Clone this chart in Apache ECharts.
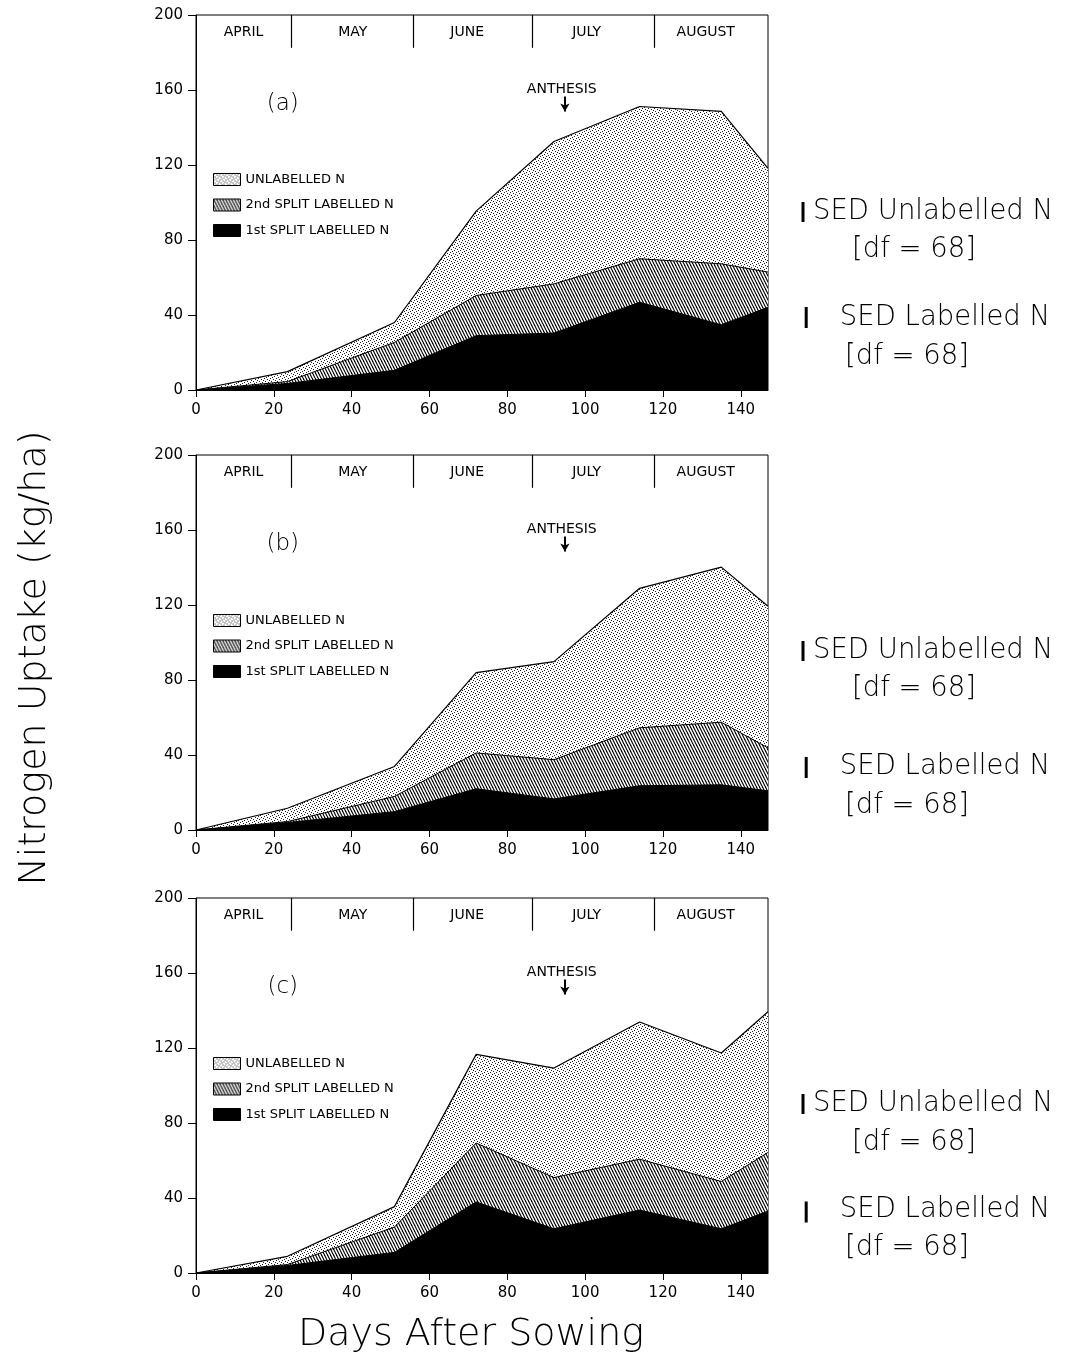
<!DOCTYPE html>
<html>
<head>
<meta charset="utf-8">
<script src="https://cdn.jsdelivr.net/npm/echarts@6/dist/echarts.min.js"></script>
<style>
html, body { margin: 0; padding: 0; background: #fff; }
#chart { width: 1066px; height: 1357px; }
</style>
</head>
<body>
<div id="chart"></div>
<script>
// sampling days (days after sowing)
const days = [0, 23.5, 51, 72, 92, 114, 135, 147]

// cumulative tops (kg/ha)
const totalA = [0, 9.8, 36, 95.4, 132.5, 151.2, 148.6, 118.2]
const labelledA = [0, 4.5, 25.4, 50.4, 56.6, 70, 67.3, 62.9]
const firstA = [0, 3.5, 10.5, 29, 30.4, 46.8, 34.8, 44.1]

const totalB = [0, 11.6, 33.9, 83.9, 89.8, 128.9, 140.2, 119.3]
const labelledB = [0, 4.5, 17.9, 41.1, 37.5, 54.5, 57.5, 43.8]
const firstB = [0, 4, 9.8, 22, 16.6, 23.6, 24.1, 20.9]

const totalC = [0, 8.9, 35.4, 116.6, 109.3, 133.9, 117.3, 139.3]
const labelledC = [0, 4.5, 24.5, 69.3, 50.9, 60.7, 48.8, 64.3]
const firstC = [0, 4, 11, 37.9, 23.6, 33.6, 23.6, 33]

const xTicks = [0, 20, 40, 60, 80, 100, 120, 140]
const monthNames = ['APRIL', 'MAY', 'JUNE', 'JULY', 'AUGUST']
const monthEdges = [24.5, 55.8, 86.3, 117.8]
const monthLabelDay = [12.2, 40.3, 69.7, 100.4, 131]
const anthesisDay = 94.8
const sedUnlabelled = 10.7
const sedLabelled = 11.2

const panelLabels = ['(a)', '(b)', '(c)']
const totals = [totalA, totalB, totalC]
const labelled = [labelledA, labelledB, labelledC]
const firsts = [firstA, firstB, firstC]

// layout
const gridTops = [15, 455, 898]
const legendTops = [168, 609, 1052]
const sedUnlCenter = [94.9, 95.5, 90.1]
const sedLabCenter = [38.7, 33.3, 32.5]
const sideTextY = [[212, 250, 318, 357], [651, 689, 767, 806], [1104, 1143, 1210, 1248]]

const FONT = 'DejaVu Sans'

function makeStipple() {
    const c = document.createElement('canvas')
    c.width = 6
    c.height = 6
    const ctx = c.getContext('2d')
    ctx.fillStyle = '#fff'
    ctx.fillRect(0, 0, 6, 6)
    ctx.fillStyle = '#222'
    ;[[0, 0], [3, 1], [1, 3], [4, 4], [2, 5], [5, 2]].forEach(([x, y]) => ctx.fillRect(x, y, 1, 1))
    return { image: c, repeat: 'repeat' }
}

function makeHatch() {
    const c = document.createElement('canvas')
    c.width = 3
    c.height = 6
    const ctx = c.getContext('2d')
    ctx.fillStyle = '#fff'
    ctx.fillRect(0, 0, 3, 6)
    ctx.strokeStyle = '#000'
    ctx.lineWidth = 1.2
    for (let k = -1; k <= 1; k++) {
        ctx.beginPath()
        ctx.moveTo(k * 3, 0)
        ctx.lineTo(k * 3 + 3, 6)
        ctx.stroke()
    }
    return { image: c, repeat: 'repeat' }
}

const stipple = makeStipple()
const hatch = makeHatch()

const zip = (xs, ys) => xs.map((x, i) => [x, ys[i]])

const grid = []
const xAxis = []
const yAxis = []
const series = []
const legend = []
const graphic = []

gridTops.forEach((top, i) => {
    const m = grid.length
    grid.push({ left: 196, width: 572, top: top, height: 375, show: true, borderColor: '#000', borderWidth: 1 })
    xAxis.push({
        type: 'value', gridIndex: m, min: 0, max: 147, interval: 20,
        axisLine: { lineStyle: { color: '#000', width: 1 } },
        axisTick: { inside: false, length: 7, customValues: xTicks, lineStyle: { color: '#000' } },
        axisLabel: { customValues: xTicks, margin: 13, color: '#000', fontSize: 15, fontFamily: FONT },
        splitLine: { show: false }
    })
    yAxis.push({
        type: 'value', gridIndex: m, min: 0, max: 200, interval: 40,
        axisLine: { show: true, lineStyle: { color: '#000', width: 1 } },
        axisTick: { show: true, inside: false, length: 8, lineStyle: { color: '#000' } },
        axisLabel: { margin: 13, color: '#000', fontSize: 15, fontFamily: FONT },
        splitLine: { show: false }
    })

    series.push({
        type: 'line', name: 'UNLABELLED N', xAxisIndex: m, yAxisIndex: m,
        data: zip(days, totals[i]), symbol: 'none',
        lineStyle: { color: '#000', width: 1.2 },
        areaStyle: { color: stipple, opacity: 1 }
    })
    series.push({
        type: 'line', name: '2nd SPLIT LABELLED N', xAxisIndex: m, yAxisIndex: m,
        data: zip(days, labelled[i]), symbol: 'none',
        lineStyle: { color: '#000', width: 1 },
        areaStyle: { color: hatch, opacity: 1 }
    })
    series.push({
        type: 'line', name: '1st SPLIT LABELLED N', xAxisIndex: m, yAxisIndex: m,
        data: zip(days, firsts[i]), symbol: 'none',
        lineStyle: { color: '#000', width: 1 },
        areaStyle: { color: '#000', opacity: 1 }
    })

    // month band, anthesis marker and panel letter
    const notes = monthNames.map((name, j) => ({ name: name, value: [monthLabelDay[j], 191] }))
    notes.push({ name: 'ANTHESIS', value: [anthesisDay - 0.8, 160.5] })
    notes.push({ name: panelLabels[i], value: [22.3, 152.5], label: { fontSize: 23, fontWeight: 200 } })
    const lines = monthEdges.map((d) => [{ coord: [d, 182.5] }, { coord: [d, 200] }])
    lines.push([
        { coord: [anthesisDay, 156.5], lineStyle: { width: 2 } },
        { coord: [anthesisDay, 148.5], symbol: 'arrow', symbolSize: [7, 8] }
    ])
    series.push({
        type: 'scatter', xAxisIndex: m, yAxisIndex: m, silent: true,
        symbolSize: 1, itemStyle: { color: 'rgba(0,0,0,0)', opacity: 1 },
        data: notes,
        label: { show: true, position: 'inside', formatter: '{b}', color: '#000', fontSize: 14, fontFamily: FONT },
        markLine: {
            silent: true, symbol: ['none', 'none'], animation: false,
            label: { show: false },
            lineStyle: { color: '#000', width: 1.2, type: 'solid', opacity: 1 },
            data: lines
        }
    })

    legend.push({
        left: 208, top: legendTops[i], orient: 'vertical', selectedMode: false,
        itemWidth: 27, itemHeight: 12, itemGap: 12.5,
        textStyle: { fontSize: 13, fontFamily: FONT, color: '#000' },
        data: [
            { name: 'UNLABELLED N', icon: 'rect', itemStyle: { color: stipple, borderColor: '#000', borderWidth: 1 } },
            { name: '2nd SPLIT LABELLED N', icon: 'rect', itemStyle: { color: hatch, borderColor: '#000', borderWidth: 1 } },
            { name: '1st SPLIT LABELLED N', icon: 'rect', itemStyle: { color: '#000', borderColor: '#000', borderWidth: 1 } }
        ]
    })

    // side scale for the SED bars
    const s = grid.length
    grid.push({ left: 795, width: 16, top: top, height: 375 })
    xAxis.push({ type: 'value', gridIndex: s, min: -1, max: 1, show: false })
    yAxis.push({ type: 'value', gridIndex: s, min: 0, max: 200, show: false })
    series.push({
        type: 'line', xAxisIndex: s, yAxisIndex: s, symbol: 'none', silent: true,
        lineStyle: { color: '#000', width: 3 },
        data: [[0, sedUnlCenter[i] - sedUnlabelled / 2], [0, sedUnlCenter[i] + sedUnlabelled / 2]]
    })
    series.push({
        type: 'line', xAxisIndex: s, yAxisIndex: s, symbol: 'none', silent: true,
        lineStyle: { color: '#000', width: 3 },
        data: [[0.4, sedLabCenter[i] - sedLabelled / 2], [0.4, sedLabCenter[i] + sedLabelled / 2]]
    })

    const ty = sideTextY[i]
    const sideText = (text, x, y, align) => ({
        type: 'text', x: x, y: y,
        style: { text: text, fill: '#000', fontSize: 27.5, fontFamily: FONT, fontWeight: 200, textAlign: align, textVerticalAlign: 'middle' }
    })
    graphic.push(sideText('SED Unlabelled N', 813, ty[0], 'left'))
    graphic.push(sideText('[df = 68]', 914, ty[1], 'center'))
    graphic.push(sideText('SED Labelled N', 945, ty[2], 'center'))
    graphic.push(sideText('[df = 68]', 907, ty[3], 'center'))
})

graphic.push({
    type: 'text', x: 35, y: 658, rotation: Math.PI / 2,
    style: { text: 'Nitrogen Uptake (kg/ha)', fill: '#000', fontSize: 38, fontFamily: FONT, fontWeight: 200, textAlign: 'center', textVerticalAlign: 'middle' }
})
graphic.push({
    type: 'text', x: 471, y: 1335,
    style: { text: 'Days After Sowing', fill: '#000', fontSize: 38, fontFamily: FONT, fontWeight: 200, textAlign: 'center', textVerticalAlign: 'middle' }
})

const chart = echarts.init(document.getElementById('chart'))
chart.setOption({
    animation: false,
    backgroundColor: '#fff',
    grid: grid,
    xAxis: xAxis,
    yAxis: yAxis,
    legend: legend,
    series: series,
    graphic: graphic
})
</script>
</body>
</html>
